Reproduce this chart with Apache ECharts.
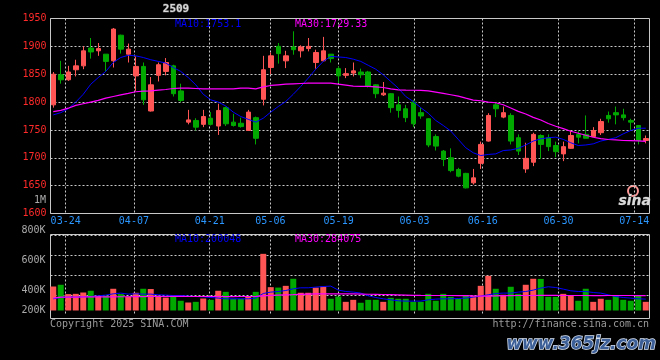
<!DOCTYPE html>
<html><head><meta charset="utf-8">
<script src="https://cdn.jsdelivr.net/npm/echarts@6/dist/echarts.min.js"></script>
<style>html,body{margin:0;padding:0;background:#000}#c{width:660px;height:360px}</style>
</head><body><div id="c"></div>
<script>
const dates = ['03-20','03-21','03-24','03-25','03-26','03-27','03-28','03-31',
'04-01','04-02','04-03','04-07','04-08','04-09','04-10','04-11','04-14','04-15','04-16','04-17','04-18','04-21','04-22','04-23','04-24','04-25','04-28','04-29','04-30',
'05-06','05-07','05-08','05-09','05-12','05-13','05-14','05-15','05-16','05-19','05-20','05-21','05-22','05-23','05-26','05-27','05-28','05-29','05-30',
'06-03','06-04','06-05','06-06','06-09','06-10','06-11','06-12','06-13','06-16','06-17','06-18','06-19','06-20','06-23','06-24','06-25','06-26','06-27','06-30',
'07-01','07-02','07-03','07-04','07-07','07-08','07-09','07-10','07-11','07-14','07-15','07-16'];
const labeledDates = ['03-24','04-07','04-21','05-06','05-19','06-03','06-16','06-30','07-14'];

const open = [1795,1849,1840,1858,1865,1897,1892,1886,1874,1920,
1886,1847,1864,1784,1848,1855,1865,1820,1764,1767,
1760,1771,1757,1790,1764,1762,1749,1772,1805,1862,
1900,1874,1899,1892,1896,1871,1874,1886,1860,1848,
1852,1854,1854,1831,1813,1815,1795,1788,1800,1781,
1770,1738,1712,1700,1679,1672,1655,1690,1730,1795,
1773,1776,1736,1680,1692,1740,1736,1722,1707,1717,
1742,1742,1738,1745,1776,1781,1777,1767,1758,1731];
const close = [1850,1840,1854,1865,1892,1890,1896,1873,1931,1895,
1895,1864,1804,1831,1867,1871,1815,1803,1768,1755,
1774,1760,1785,1761,1758,1756,1782,1735,1858,1883,
1887,1883,1894,1899,1900,1889,1892,1878,1847,1851,
1856,1849,1828,1815,1816,1790,1785,1772,1761,1775,
1723,1721,1697,1677,1667,1646,1664,1724,1776,1788,
1781,1730,1712,1699,1742,1724,1720,1711,1720,1740,
1737,1735,1749,1765,1770,1777,1772,1764,1731,1734.5];
const low = [1790,1833,1838,1846,1859,1878,1883,1854,1862,1887,
1871,1820,1795,1783,1837,1848,1810,1800,1760,1749,
1755,1758,1741,1757,1756,1754,1749,1724,1794,1850,
1869,1861,1885,1880,1891,1860,1873,1871,1834,1843,
1846,1843,1826,1807,1811,1781,1772,1764,1755,1770,
1719,1713,1685,1674,1665,1645,1652,1680,1729,1773,
1771,1724,1705,1673,1685,1698,1712,1701,1694,1716,
1726,1735,1738,1741,1763,1760,1767,1750,1724,1726];
const high = [1854,1874,1865,1876,1900,1915,1906,1886,1933,1921,
1905,1882,1871,1845,1871,1879,1867,1833,1786,1771,
1786,1782,1797,1792,1779,1772,1786,1774,1883,1889,
1906,1892,1927,1902,1915,1894,1917,1886,1864,1861,
1871,1860,1856,1832,1836,1816,1810,1795,1804,1790,
1771,1742,1714,1717,1682,1673,1680,1729,1780,1799,
1792,1780,1742,1727,1745,1742,1742,1729,1729,1749,
1748,1776,1755,1770,1783,1792,1788,1770,1758,1740];

const ma10 = [1777,1781,1788,1800,1814,1832,1844,1855,1871,1880,
1884,1883,1880,1876,1873,1870,1862,1855,1844,1831,
1814,1804,1800,1793,1782,1774,1769,1764,1771,1782,
1792,1801,1814,1828,1843,1859,1873,1882,1881,1880,
1877,1873,1866,1859,1849,1837,1825,1810,1801,1790,
1780,1767,1758,1748,1733,1718,1709,1704,1706,1707,
1713,1714,1717,1723,1730,1734,1736,1737,1733,1727,
1722,1723,1725,1730,1733,1736,1743,1749,1753,1753.1];
const ma30 = [1783,1785,1789,1794,1797,1800,1803,1807,1810,1813,
1815.5,1818.5,1819.6,1820.2,1821.4,1822.6,1824.4,1825,1825,1824.4,
1823.8,1823.8,1823.8,1823.8,1823.8,1825,1825,1823.8,1827.4,1829.8,
1831,1832.1,1832.7,1833.3,1833.9,1833.9,1833.9,1833.9,1832.1,1830.4,
1828.6,1828.3,1828,1827.4,1826.2,1823.8,1822,1821.4,1821.2,1821,
1820.2,1817.9,1815.5,1813.1,1810.7,1807.1,1803.6,1802.4,1800,1798.8,
1795.2,1789.3,1783.3,1778.6,1772.6,1767.9,1761.5,1756.6,1752.4,1747.6,
1744.1,1740.5,1736.9,1734.5,1732.8,1732.2,1731,1730.8,1730.4,1729.33];

const volume = [380000,393000,323000,325000,335000,348000,310000,312000,363000,323000,
305000,333000,363000,361000,312000,297000,313000,273000,260000,265000,
290000,280000,348000,340000,288000,287000,303000,340000,625000,375000,
372000,385000,438000,333000,333000,372000,380000,288000,305000,265000,
280000,258000,280000,280000,265000,295000,288000,288000,265000,265000,
325000,273000,325000,303000,288000,310000,310000,385000,460000,363000,
318000,378000,325000,393000,438000,437000,303000,302000,325000,312000,
273000,363000,265000,288000,280000,310000,280000,273000,310000,265000];
const volMa10 = [288000,297500,300500,300500,302750,305000,310250,315500,325250,330500,
323000,325250,323000,323000,317750,315500,312500,312500,308000,305000,
302750,297500,293000,287750,287750,287750,287750,293000,327500,338000,
342500,350000,362750,370250,370250,375500,380000,383000,353000,342500,
338000,330500,310250,297500,287750,280250,272750,270500,270500,270500,
280250,285500,287750,287750,290000,293000,300500,308000,317750,327500,
330500,330500,338000,342500,353000,368000,377750,372500,360500,347750,
342500,342500,335000,330500,317750,305000,297500,293000,287750,285500];
const volMa30 = [293000,300500,300500,301000,301500,301500,302000,302500,302500,303000,
303000,304000,304500,305000,305000,305000,305500,305500,305000,305000,
305000,305000,305000,304500,304500,305000,305000,305500,310000,314000,
316000,317500,319000,321000,323000,324500,325250,325250,325000,324500,
324000,323000,322000,321000,320000,318500,317000,315500,314000,313000,
312500,312500,312500,312500,312000,311000,309000,308000,308000,309500,
311000,312000,312500,312500,312500,313000,313000,313000,312500,312500,
312500,312500,312000,312000,312500,312500,312500,312500,312000,312000];

const priceMin = 1600, priceMax = 1950, priceStep = 50;
const volMin = 200000, volMax = 800000;
const volTickLabels = ['200K','','400K','','','600K','','','800K'];

const titleText = '2509';
const maPriceTexts = ['MA10:1753.1', 'MA30:1729.33'];
const maVolTexts = ['MA10:200048', 'MA30:284075'];
const sideLabel = '1M';
const copyrightText = 'Copyright 2025 SINA.COM';
const urlText = 'http://finance.sina.com.cn';
const watermarkText = 'www.365jz.com';

const RED = '#ff5555', GREEN = '#00a800';
const GRIDC = '#c8c8c8';
const MONO = '"DejaVu Sans Mono", monospace';
const dotted = { color: GRIDC, type: [2, 2], width: 1 };
const isLabeled = (i, v) => labeledDates.indexOf(v) >= 0;

const candleData = open.map((o, i) => [o, close[i], low[i], high[i]]);

const chart = echarts.init(document.getElementById('c'), null, { renderer: 'canvas' });
chart.setOption({
  backgroundColor: '#000',
  animation: false,
  grid: [
    { left: 50.5, top: 18.5, width: 599, height: 195, show: true, borderColor: GRIDC, borderWidth: 1, backgroundColor: 'transparent' },
    { left: 49.5, top: 18.5, width: 600, height: 195 },
    { left: 50.5, top: 234.5, width: 599, height: 84, show: true, borderColor: GRIDC, borderWidth: 1, backgroundColor: 'transparent' },
    { left: 50.5, top: 235.5, width: 599, height: 80 },
    { left: 49.5, top: 230.5, width: 600, height: 80 }
  ],
  xAxis: [
    { gridIndex: 0, type: 'category', boundaryGap: false, data: dates,
      axisLine: { show: false }, axisTick: { show: false },
      axisLabel: { interval: isLabeled, color: '#2a96ff', fontFamily: MONO, fontSize: 10, margin: 3 },
      splitLine: { show: true, interval: isLabeled, lineStyle: dotted } },
    { gridIndex: 1, type: 'category', data: dates, show: false },
    { gridIndex: 2, type: 'category', data: dates, show: false },
    { gridIndex: 3, type: 'category', boundaryGap: false, data: dates,
      axisLine: { show: false }, axisTick: { show: false }, axisLabel: { show: false },
      splitLine: { show: true, interval: isLabeled, lineStyle: dotted } },
    { gridIndex: 4, type: 'category', data: dates, show: false }
  ],
  yAxis: [
    { gridIndex: 0, type: 'value', position: 'left', min: priceMin, max: priceMax, interval: priceStep,
      axisLine: { show: false }, axisTick: { show: false },
      axisLabel: { color: '#ff2a2a', fontFamily: MONO, fontSize: 10, margin: 4, formatter: v => String(v) },
      splitLine: { show: true, lineStyle: dotted } },
    { gridIndex: 1, type: 'value', min: priceMin, max: priceMax, show: false },
    { gridIndex: 2, type: 'value', min: 0, max: 1, show: false },
    { gridIndex: 3, type: 'value', min: 0, max: 80, interval: 20,
      axisLine: { show: false }, axisTick: { show: false }, axisLabel: { show: false },
      splitLine: { show: true, showMinLine: false, lineStyle: dotted } },
    { gridIndex: 4, type: 'value', position: 'right', min: volMin, max: volMax, show: false },
    { gridIndex: 4, type: 'category', position: 'left', boundaryGap: false, data: volTickLabels,
      axisLine: { show: false }, axisTick: { show: false }, splitLine: { show: false },
      axisLabel: { interval: 0, color: '#aaaaaa', fontFamily: MONO, fontSize: 10, margin: 4 } }
  ],
  series: [
    { type: 'candlestick', xAxisIndex: 1, yAxisIndex: 1, data: candleData, barWidth: 5,
      itemStyle: { color: RED, color0: GREEN, borderColor: RED, borderColor0: GREEN, borderWidth: 1 } },
    { type: 'line', xAxisIndex: 1, yAxisIndex: 1, data: ma10, symbol: 'none', lineStyle: { color: '#0000ff', width: 1 } },
    { type: 'line', xAxisIndex: 1, yAxisIndex: 1, data: ma30, symbol: 'none', lineStyle: { color: '#ff00ff', width: 1.2 } },
    { type: 'bar', xAxisIndex: 4, yAxisIndex: 4, data: volume, barWidth: 6, clip: true,
      itemStyle: { color: p => close[p.dataIndex] >= open[p.dataIndex] ? RED : GREEN } },
    { type: 'line', xAxisIndex: 4, yAxisIndex: 4, data: volMa10, symbol: 'none', lineStyle: { color: '#0000ff', width: 1 } },
    { type: 'line', xAxisIndex: 4, yAxisIndex: 4, data: volMa30, symbol: 'none', lineStyle: { color: '#ff00ff', width: 1.2 } }
  ],
  graphic: [
    { type: 'text', x: 176, y: 9, style: { text: titleText, fill: '#d8d8d8', stroke: '#555', lineWidth: 1, font: 'bold 11px ' + MONO, align: 'center', verticalAlign: 'middle' } },
    { type: 'text', x: 175, y: 24, style: { text: maPriceTexts[0], fill: '#0000ff', font: '10px ' + MONO, align: 'left', verticalAlign: 'middle' } },
    { type: 'text', x: 295, y: 24, style: { text: maPriceTexts[1], fill: '#ff00ff', font: '10px ' + MONO, align: 'left', verticalAlign: 'middle' } },
    { type: 'text', x: 175, y: 239, style: { text: maVolTexts[0], fill: '#0000ff', font: '10px ' + MONO, align: 'left', verticalAlign: 'middle' } },
    { type: 'text', x: 295, y: 239, style: { text: maVolTexts[1], fill: '#ff00ff', font: '10px ' + MONO, align: 'left', verticalAlign: 'middle' } },
    { type: 'text', x: 46, y: 200, style: { text: sideLabel, fill: '#aaaaaa', font: '10px ' + MONO, align: 'right', verticalAlign: 'middle' } },
    { type: 'text', x: 50, y: 324, style: { text: copyrightText, fill: '#9a9a9a', font: '10px ' + MONO, align: 'left', verticalAlign: 'middle' } },
    { type: 'text', x: 649, y: 324, style: { text: urlText, fill: '#9a9a9a', font: '10px ' + MONO, align: 'right', verticalAlign: 'middle' } },
    { type: 'circle', shape: { cx: 633, cy: 191, r: 5 }, style: { fill: 'none', stroke: '#ff9a9a', lineWidth: 2 } },
    { type: 'text', x: 651, y: 201, style: { text: 'sina', fill: '#dcdcdc', stroke: '#777', lineWidth: 0.5, font: 'bold italic 14px "DejaVu Sans"', align: 'right', verticalAlign: 'middle' } },
    { type: 'text', x: 656, y: 345, style: { text: watermarkText, fill: '#3d5f98', stroke: '#d8e2f0', lineWidth: 1.5, font: 'bold italic 17px "DejaVu Sans"', align: 'right', verticalAlign: 'middle' } }
  ]
});
</script>
</body></html>
